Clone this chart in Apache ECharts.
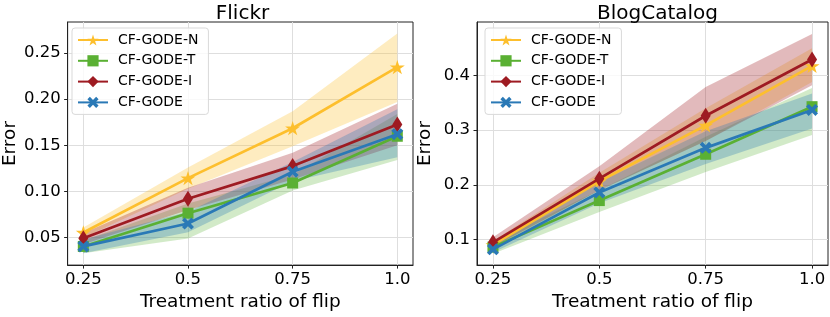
<!DOCTYPE html>
<html>
<head>
<meta charset="utf-8">
<script src="https://cdn.jsdelivr.net/npm/echarts@6/dist/echarts.min.js"></script>
<style>
html,body{margin:0;padding:0;background:#fff;}
#chart{width:830px;height:317px;}
</style>
</head>
<body>
<div id="chart"></div>
<script>
// ---- data ----
const xValues = [0.25, 0.5, 0.75, 1.0];
const xTickLabels = ['0.25', '0.5', '0.75', '1.0'];
const methods = ['CF-GODE-N', 'CF-GODE-T', 'CF-GODE-I', 'CF-GODE'];
const panelTitles = ['Flickr', 'BlogCatalog'];
const flickrYTicks = [0.05, 0.10, 0.15, 0.20, 0.25];
const blogYTicks = [0.1, 0.2, 0.3, 0.4];

// Flickr
const flickrN   = [0.0556, 0.1145, 0.1685, 0.2346];
const flickrNLo = [0.050, 0.103, 0.149, 0.197];
const flickrNHi = [0.061, 0.126, 0.187, 0.271];
const flickrT   = [0.0405, 0.0765, 0.1092, 0.1598];
const flickrTLo = [0.033, 0.049, 0.101, 0.134];
const flickrTHi = [0.047, 0.087, 0.118, 0.184];
const flickrI   = [0.0493, 0.0921, 0.1275, 0.1726];
const flickrILo = [0.043, 0.080, 0.113, 0.150];
const flickrIHi = [0.055, 0.104, 0.142, 0.195];
const flickrG   = [0.0405, 0.0653, 0.1214, 0.1620];
const flickrGLo = [0.033, 0.056, 0.111, 0.137];
const flickrGHi = [0.048, 0.078, 0.132, 0.189];

// BlogCatalog
const blogN   = [0.090, 0.2064, 0.3088, 0.4176];
const blogNLo = [0.084, 0.190, 0.280, 0.388];
const blogNHi = [0.097, 0.222, 0.340, 0.450];
const blogT   = [0.0859, 0.1711, 0.2559, 0.343];
const blogTLo = [0.074, 0.150, 0.2235, 0.291];
const blogTHi = [0.096, 0.190, 0.288, 0.377];
const blogI   = [0.0947, 0.2112, 0.3264, 0.4294];
const blogILo = [0.086, 0.190, 0.280, 0.382];
const blogIHi = [0.104, 0.234, 0.379, 0.476];
const blogG   = [0.0818, 0.186, 0.2676, 0.337];
const blogGLo = [0.076, 0.166, 0.238, 0.303];
const blogGHi = [0.090, 0.205, 0.298, 0.367];

// ---- styling ----
const FONT = 'DejaVu Sans';
const colors = ['#FDBF2D', '#5AB033', '#9E1B22', '#2A79B6'];
const bandOpacity = [0.3, 0.27, 0.3, 0.3];
const STAR = 'path://M50 0 L61.2 34.5 L97.6 34.5 L68.2 55.9 L79.4 90.5 L50 69.1 L20.6 90.5 L31.8 55.9 L2.4 34.5 L38.8 34.5 Z';
const XMARK = 'path://M0 22 L22 0 L50 28 L78 0 L100 22 L72 50 L100 78 L78 100 L50 72 L22 100 L0 78 L28 50 Z';
const symbols = [STAR, 'rect', 'diamond', XMARK];
const symbolSizes = [15, 11, [10, 16], 12];

const panels = [
  {mean: [flickrN, flickrT, flickrI, flickrG], lo: [flickrNLo, flickrTLo, flickrILo, flickrGLo], hi: [flickrNHi, flickrTHi, flickrIHi, flickrGHi]},
  {mean: [blogN, blogT, blogI, blogG], lo: [blogNLo, blogTLo, blogILo, blogGLo], hi: [blogNHi, blogTHi, blogIHi, blogGHi]}
];

const gridLeft = [62, 477];
const gridW = 351, gridTop = 22, gridH = 252;

function bandRender(color, opacity) {
  return function (params, api) {
    if (params.dataIndexInside !== 0) return null;
    const n = params.dataInsideLength;
    const upper = [], lower = [];
    for (let i = 0; i < n; i++) {
      const x = api.value(0, i);
      lower.push(api.coord([x, api.value(1, i)]));
      upper.push(api.coord([x, api.value(2, i)]));
    }
    const pts = lower.concat(upper.reverse());
    return {
      type: 'polygon',
      shape: {points: pts},
      style: {fill: color, opacity: opacity}
    };
  };
}

const series = [];
panels.forEach((p, pi) => {
  methods.forEach((m, mi) => {
    series.push({
      type: 'custom', xAxisIndex: pi, yAxisIndex: pi, silent: true,
      renderItem: bandRender(colors[mi], bandOpacity[mi]),
      encode: {x: 0, y: [1, 2]},
      data: xValues.map((x, i) => [x, p.lo[mi][i], p.hi[mi][i]]),
      clip: true, z: 1, animation: false
    });
  });
  methods.forEach((m, mi) => {
    series.push({
      name: m, type: 'line', xAxisIndex: pi, yAxisIndex: pi,
      data: xValues.map((x, i) => [x, p.mean[mi][i]]),
      symbol: symbols[mi], symbolSize: symbolSizes[mi], symbolKeepAspect: true,
      showSymbol: true,
      lineStyle: {color: colors[mi], width: 2.7},
      itemStyle: {color: colors[mi], borderWidth: 0},
      z: 3 + mi, animation: false
    });
  });
});

const yMins = [0.0203, 0.053];
const yMaxs = [0.2835, 0.498];
const yTicks = [flickrYTicks, blogYTicks];
const yDigits = [2, 1];

const option = {
  backgroundColor: '#fff',
  animation: false,
  title: panelTitles.map((t, i) => ({
    text: t, left: gridLeft[i] + gridW / 2, textAlign: 'center', top: -1,
    textStyle: {fontSize: 20, fontWeight: 'normal', color: '#000', fontFamily: FONT}
  })),
  legend: [0, 1].map(i => ({
    data: methods, orient: 'vertical',
    left: gridLeft[i] + (i === 0 ? 10 : 8), top: 28,
    itemWidth: 30, itemHeight: 14, itemGap: 6.8,
    padding: [5, 10, 5, 5],
    borderColor: '#d9d9d9', borderWidth: 1, borderRadius: 3, backgroundColor: 'rgba(255,255,255,0.8)',
    textStyle: {fontSize: 14, color: '#000', fontFamily: FONT, padding: [0, 0, 0, 5]},
    selectedMode: false
  })),
  grid: [0, 1].map(i => ({
    left: gridLeft[i], top: gridTop, width: gridW, height: gridH,
    show: true, borderColor: '#222', borderWidth: 1, backgroundColor: 'transparent'
  })),
  xAxis: [0, 1].map(i => ({
    type: 'value', gridIndex: i, min: 0.2125, max: 1.0375,
    name: 'Treatment ratio of flip', nameLocation: 'middle', nameGap: 27,
    nameTextStyle: {fontSize: 18.5, color: '#000', fontFamily: FONT},
    axisLine: {show: true, lineStyle: {color: '#222', width: 1}},
    axisTick: {show: true, inside: false, length: 3.5, customValues: xValues, lineStyle: {color: '#222'}},
    axisLabel: {customValues: xValues, fontSize: 16.5, color: '#000', fontFamily: FONT, margin: 6,
      formatter: v => xTickLabels[xValues.findIndex(x => Math.abs(x - v) < 1e-9)]},
    splitLine: {show: true, lineStyle: {color: '#dedede', width: 1}}
  })),
  yAxis: [0, 1].map(i => ({
    type: 'value', gridIndex: i, min: yMins[i], max: yMaxs[i],
    name: 'Error', nameLocation: 'middle', nameGap: 42,
    nameTextStyle: {fontSize: 18.5, color: '#000', fontFamily: FONT},
    axisLine: {show: true, lineStyle: {color: '#222', width: 1}},
    axisTick: {show: true, inside: false, length: 3.5, customValues: yTicks[i], lineStyle: {color: '#222'}},
    axisLabel: {customValues: yTicks[i], fontSize: 16.5, color: '#000', fontFamily: FONT, margin: 7,
      formatter: v => v.toFixed(yDigits[i])},
    splitLine: {show: true, lineStyle: {color: '#dedede', width: 1}}
  })),
  series: series
};

const chart = echarts.init(document.getElementById('chart'), null, {renderer: 'canvas'});
chart.setOption(option);
</script>
</body>
</html>
